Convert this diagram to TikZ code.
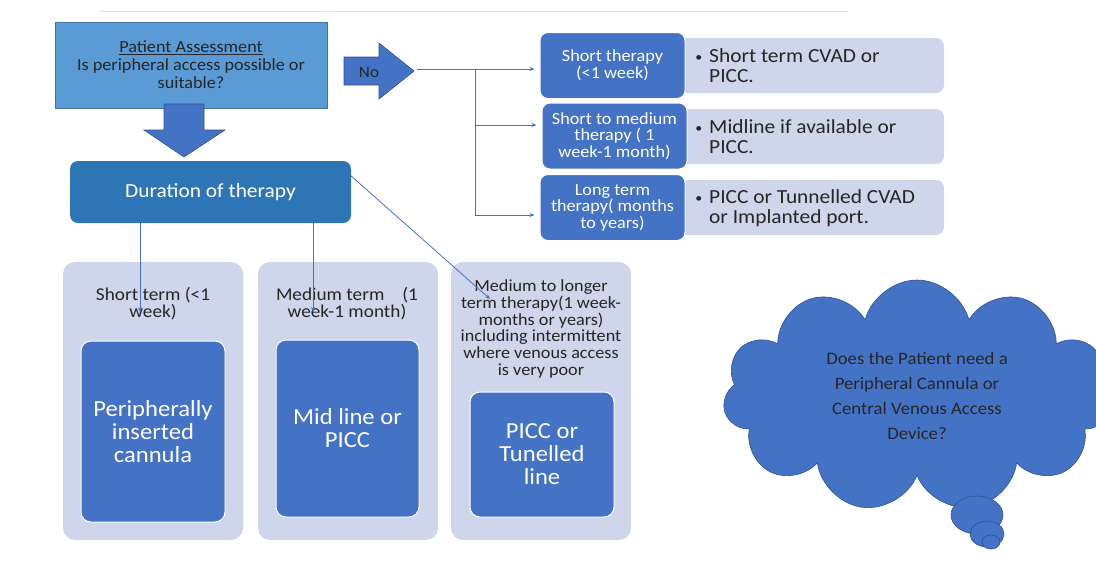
\documentclass[tikz,border=0pt]{standalone}
\usepackage{fontspec}
\setmainfont[FakeStretch=1.07]{Carlito}
\usepackage{tikz}
\usetikzlibrary{arrows.meta,shapes.symbols}

\definecolor{accblue}{HTML}{4472C4}
\definecolor{accdark}{HTML}{2F528F}
\definecolor{skyblue}{HTML}{5B9BD5}
\definecolor{skyedge}{HTML}{41719C}
\definecolor{midblue}{HTML}{2E75B6}
\definecolor{lavender}{HTML}{CFD5EA}

\begin{document}
\begin{tikzpicture}[x=1pt, y=-1pt, inner sep=0pt,
    assess/.style={draw=skyedge, fill=skyblue, minimum width=272, minimum height=86,
      align=center, text=black!85, font=\fontsize{17}{18}\selectfont},
    duration/.style={fill=midblue, rounded corners=8, minimum width=281, minimum height=62,
      text=white, font=\fontsize{20}{22}\selectfont},
    panel/.style={fill=lavender, rounded corners=12, minimum width=180, minimum height=278},
    panellabel/.style={align=center, text=black!85, font=\fontsize{18}{17}\selectfont},
    choice/.style={fill=accblue, draw=white, line width=1pt, rounded corners=10,
      align=center, text=white, font=\fontsize{23}{23}\selectfont},
    term/.style={fill=accblue, draw=white, line width=1pt, rounded corners=8,
      minimum width=145, minimum height=66, align=center, text=white,
      font=\fontsize{17}{16.5}\selectfont},
    device/.style={fill=lavender, rounded corners=8, minimum width=274, minimum height=55},
    devicetext/.style={anchor=west, align=left, text=black!85, font=\fontsize{20}{20}\selectfont},
    blkarrow/.style={fill=accblue, draw=accdark, line width=0.6pt},
    link/.style={draw=accblue, line width=0.8pt},
    tip/.style={-{Stealth[length=5pt,width=4pt]}}]
  \useasboundingbox (0,0) rectangle (1096,571);
  \draw[black!12, line width=0.8pt] (100,11) -- (848,11);

  % assessment and duration
  \node[assess] (pa) at (191,65) {\underline{Patient Assessment}\\Is peripheral access possible or\\suitable?};
  \filldraw[blkarrow] (164,104) -- (204,104) -- (204,130) -- (225,130) -- (184,157)
    -- (144,130) -- (164,130) -- cycle;
  \node[duration] (dur) at (210.5,192) {Duration of therapy};

  % no branch
  \filldraw[blkarrow] (344,57) -- (379,57) -- (379,43) -- (414,71) -- (379,99)
    -- (379,85) -- (344,85) -- cycle;
  \node[text=black!85, font=\fontsize{16}{16}\selectfont] (no) at (369,72) {No};
  \coordinate (notip) at (417,69);
  \coordinate (split) at (475,69);

  \node[device] (d1) at (807,65.5) {};
  \node[device] (d2) at (807,136.5) {};
  \node[device] (d3) at (807,207.5) {};
  \node[term] (s1) at (612.5,65.5) {Short therapy\\(<1 week)};
  \node[term] (s2) at (614.5,136) {Short to medium\\therapy ( 1\\week-1 month)};
  \node[term] (s3) at (612.5,207.5) {Long term\\therapy( months\\to years)};
  \node[devicetext] (t1) at (709,66) {\llap{\fontsize{13}{13}\selectfont\raisebox{1pt}{\textbullet}\hspace{7pt}}Short term CVAD or\\PICC.};
  \node[devicetext] (t2) at (709,137) {\llap{\fontsize{13}{13}\selectfont\raisebox{1pt}{\textbullet}\hspace{7pt}}Midline if available or\\PICC.};
  \node[devicetext] (t3) at (709,208) {\llap{\fontsize{13}{13}\selectfont\raisebox{1pt}{\textbullet}\hspace{7pt}}PICC or Tunnelled CVAD\\or Implanted port.};

  \draw[link] (notip) -- (split) -- (split |- 0,215);
  \draw[link, tip] (split) -- ([xshift=-5pt]s1.west |- split);
  \draw[link, tip] (split |- 0,125) -- ([xshift=-5pt]s2.west |- 0,125);
  \draw[link, tip] (split |- 0,215) -- ([xshift=-5pt]s3.west |- 0,215);

  % duration panels
  \node[panel] (p1) at (153,401) {};
  \node[panel] (p2) at (348,401) {};
  \node[panel] (p3) at (541,401) {};
  \node[panellabel] (l1) at (153,304) {Short term (<1\\week)};
  \node[panellabel] (l2) at (347,304) {Medium term\quad(1\\week-1 month)};
  \node[panellabel, font=\fontsize{17}{16.7}\selectfont] (l3) at (541,329)
    {Medium to longer\\term therapy(1 week-\\months or years)\\including intermittent\\where venous access\\is very poor};
  \node[choice, minimum width=144, minimum height=181] (c1) at (153,431.5) {Peripherally\\inserted\\cannula};
  \node[choice, minimum width=143, minimum height=177] (c2) at (347.5,428.5) {Mid line or\\PICC};
  \node[choice, minimum width=144, minimum height=125] (c3) at (542,454.5) {PICC or\\Tunelled\\line};

  \coordinate (e1) at (140,312);
  \coordinate (e2) at (313,312);
  \coordinate (e3) at (490,299);
  \draw[link, tip] (dur.south -| e1) -- (e1);
  \draw[link, tip] (dur.south -| e2) -- (e2);
  \draw[link, tip] ([yshift=16pt]dur.east) -- (e3);

  % thought cloud
  \node[cloud, cloud puffs=11, cloud ignores aspect, fill=accblue, draw=accdark,
    line width=0.6pt, minimum width=388, minimum height=232, align=center,
    text=black!85, font=\fontsize{17.5}{25}\selectfont] (q) at (917,396)
    {Does the Patient need a\\Peripheral Cannula or\\Central Venous Access\\Device?};
  \filldraw[blkarrow] (977,515) ellipse [x radius=26, y radius=19];
  \filldraw[blkarrow] (987,534) ellipse [x radius=17, y radius=13];
  \filldraw[blkarrow] (991,542) ellipse [x radius=9, y radius=7];
\end{tikzpicture}
\end{document}
